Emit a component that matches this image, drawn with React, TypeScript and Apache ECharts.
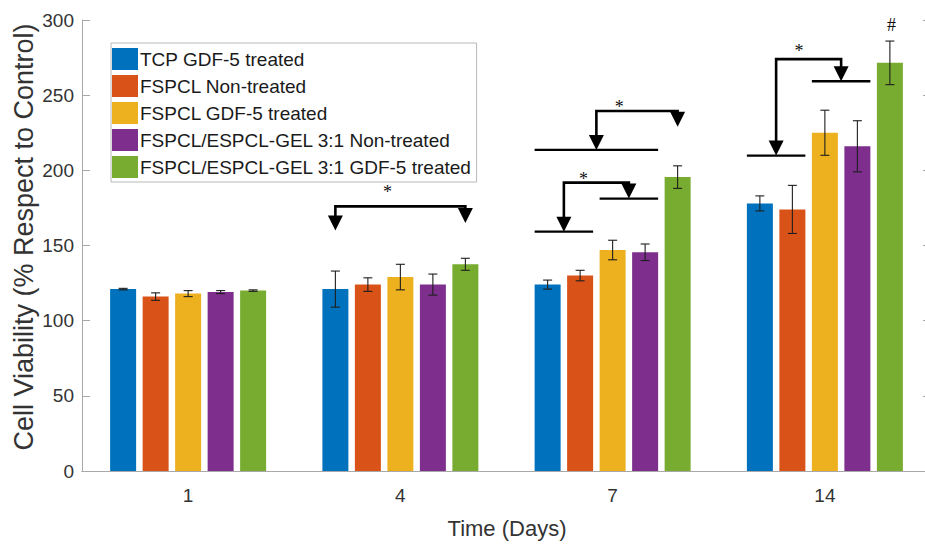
import { useEffect, useRef } from "react";
import * as echarts from "echarts";

// Time points (days) and treatment groups
const days = ["1", "4", "7", "14"];
const groupNames = [
  "TCP GDF-5 treated",
  "FSPCL Non-treated",
  "FSPCL GDF-5 treated",
  "FSPCL/ESPCL-GEL 3:1 Non-treated",
  "FSPCL/ESPCL-GEL 3:1 GDF-5 treated",
];
const groupColors = ["#0072BD", "#D95319", "#EDB120", "#7E2F8E", "#77AC30"];

// Mean cell viability (% respect to control) per day
const tcpTreated = [121, 121, 124, 178];
const fspclNonTreated = [116, 124, 130, 174];
const fspclTreated = [118, 129, 147, 225];
const blendNonTreated = [119, 124, 145.5, 216];
const blendTreated = [120, 137.5, 195.5, 271.5];

// Standard deviations
const tcpTreatedSd = [0.5, 12, 3, 5];
const fspclNonTreatedSd = [2.5, 4.5, 3.5, 16];
const fspclTreatedSd = [2, 8.5, 6.5, 15];
const blendNonTreatedSd = [1, 7, 5.5, 17];
const blendTreatedSd = [0.5, 4, 7.5, 14.5];

const groupValues = [tcpTreated, fspclNonTreated, fspclTreated, blendNonTreated, blendTreated];
const groupSd = [tcpTreatedSd, fspclNonTreatedSd, fspclTreatedSd, blendNonTreatedSd, blendTreatedSd];

// Significance brackets: day index, bracket height, compared bar ranges and arrow tip levels
const bracketDay = [1, 2, 2, 3];
const bracketTop = [176, 239.5, 191.8, 274];
const bracketFromBars = [[0, 0], [0, 3], [0, 1], [0, 1]];
const bracketToBars = [[4, 4], [4, 4], [2, 3], [2, 3]];
const bracketFromTip = [160, 213.6, 159.2, 209.8];
const bracketToTip = [165, 229, 181.2, 259.3];

// Significance symbols: day index, bar slot, level, symbol
const markDay = [1, 2, 2, 3, 3];
const markSlot = [1.6, 2.2, 1.1, 1.2, 4.05];
const markLevel = [187.6, 244.2, 196.5, 281.6, 296.7];
const markText = ["*", "*", "*", "*", "#"];

const BAR_W = 26;
const PITCH = 32.5;
const HEAD = 15;
const SANS = '"Liberation Sans", Arial, sans-serif';
const SERIF = '"Liberation Serif", "Times New Roman", serif';
const AXIS_GREY = "#a8a8a8";

export default function App() {
  const ref = useRef<HTMLDivElement>(null);

  useEffect(() => {
    if (!ref.current) return;
    const chart = echarts.init(ref.current, null, { renderer: "svg" });

    const barSeries = groupNames.map((name, s) => ({
      name,
      type: "bar",
      data: groupValues[s],
      barWidth: BAR_W,
      barGap: "25%",
      itemStyle: { color: groupColors[s] },
      z: 2,
    }));

    const errorData: number[][] = [];
    groupValues.forEach((vals, s) =>
      vals.forEach((v, d) => errorData.push([d, v, groupSd[s][d], s]))
    );

    const errorSeries = {
      type: "custom",
      z: 4,
      silent: true,
      encode: { x: 0, y: 1 },
      data: errorData,
      renderItem: (_p: any, api: any) => {
        const d = api.value(0);
        const v = api.value(1);
        const e = api.value(2);
        const s = api.value(3);
        const x = api.coord([d, v])[0] + (s - 2) * PITCH;
        const yt = api.coord([d, v + e])[1];
        const yb = api.coord([d, v - e])[1];
        const st = { stroke: "#1e1e1e", lineWidth: 1.1 };
        return {
          type: "group",
          children: [
            { type: "line", shape: { x1: x, y1: yt, x2: x, y2: yb }, style: st },
            { type: "line", shape: { x1: x - 4.5, y1: yt, x2: x + 4.5, y2: yt }, style: st },
            { type: "line", shape: { x1: x - 4.5, y1: yb, x2: x + 4.5, y2: yb }, style: st },
          ],
        };
      },
    };

    const bracketSeries = {
      type: "custom",
      z: 5,
      silent: true,
      clip: false,
      encode: { x: 0, y: 1 },
      data: bracketDay.map((d, i) => [d, bracketTop[i]]),
      renderItem: (params: any, api: any) => {
        const i = params.dataIndex;
        const d = bracketDay[i];
        const cx = api.coord([d, 0])[0];
        const slotX = (s: number) => cx + (s - 2) * PITCH;
        const target = (bars: number[], tip: number) => {
          const [a, b] = bars;
          return {
            x: (slotX(a) + slotX(b)) / 2,
            y: api.coord([d, tip])[1],
            span: a !== b ? [slotX(a) - BAR_W / 2, slotX(b) + BAR_W / 2] : null,
          };
        };
        const L = target(bracketFromBars[i], bracketFromTip[i]);
        const R = target(bracketToBars[i], bracketToTip[i]);
        const yTop = api.coord([d, bracketTop[i]])[1];
        const stroke = { stroke: "#000", lineWidth: 2.6, fill: null };
        const children: any[] = [
          {
            type: "polyline",
            shape: {
              points: [
                [L.x, L.y - HEAD + 1],
                [L.x, yTop],
                [R.x, yTop],
                [R.x, R.y - HEAD + 1],
              ],
            },
            style: stroke,
          },
        ];
        [L, R].forEach((t) => {
          children.push({
            type: "polygon",
            shape: {
              points: [
                [t.x - 7.5, t.y - HEAD],
                [t.x + 7.5, t.y - HEAD],
                [t.x, t.y],
              ],
            },
            style: { fill: "#000" },
          });
          if (t.span) {
            children.push({
              type: "line",
              shape: { x1: t.span[0], y1: t.y, x2: t.span[1], y2: t.y },
              style: { stroke: "#000", lineWidth: 2.4 },
            });
          }
        });
        return { type: "group", children };
      },
    };

    const markSeries = {
      type: "custom",
      z: 6,
      silent: true,
      clip: false,
      encode: { x: 0, y: 1 },
      data: markDay.map((d, i) => [d, markLevel[i]]),
      renderItem: (params: any, api: any) => {
        const i = params.dataIndex;
        const d = markDay[i];
        const p = api.coord([d, markLevel[i]]);
        const x = p[0] + (markSlot[i] - 2) * PITCH;
        return {
          type: "text",
          x,
          y: p[1] + (markText[i] === "*" ? 3 : 0),
          style: {
            text: markText[i],
            font: `18px ${SERIF}`,
            fill: "#111",
            align: "center",
            verticalAlign: "middle",
          },
        };
      },
    };

    chart.setOption({
      animation: false,
      backgroundColor: "#fff",
      grid: { left: 82, right: 14, top: 20, bottom: 74, containLabel: false },
      legend: {
        data: groupNames,
        orient: "vertical",
        left: 111,
        top: 43,
        icon: "rect",
        itemWidth: 26,
        itemHeight: 22,
        itemGap: 5,
        padding: [5, 5, 4, 1],
        borderColor: "#b8b8b8",
        borderWidth: 1,
        backgroundColor: "#fff",
        textStyle: { fontFamily: SANS, fontSize: 19, color: "#1a1a1a", padding: [0, 0, 0, -3] },
        selectedMode: false,
      },
      xAxis: [
        {
          type: "category",
          data: days,
          position: "bottom",
          axisLine: { lineStyle: { color: AXIS_GREY, width: 1 } },
          axisTick: { inside: true, alignWithLabel: true, length: 7, lineStyle: { color: AXIS_GREY } },
          axisLabel: { fontFamily: SANS, fontSize: 19, color: "#333", margin: 15 },
        },
        {
          type: "category",
          data: days,
          position: "top",
          axisLine: { lineStyle: { color: AXIS_GREY, width: 1 } },
          axisTick: { inside: true, alignWithLabel: true, length: 7, lineStyle: { color: AXIS_GREY } },
          axisLabel: { show: false },
        },
      ],
      yAxis: [
        {
          type: "value",
          min: 0,
          max: 300,
          interval: 50,
          axisLine: { show: true, lineStyle: { color: AXIS_GREY, width: 1 } },
          axisTick: { show: true, inside: true, length: 8, lineStyle: { color: AXIS_GREY } },
          splitLine: { show: false },
          axisLabel: { fontFamily: SANS, fontSize: 19, color: "#333", margin: 8 },
        },
        {
          type: "value",
          position: "right",
          min: 0,
          max: 300,
          interval: 50,
          axisLine: { show: true, lineStyle: { color: AXIS_GREY, width: 1 } },
          axisTick: { show: true, inside: true, length: 8, lineStyle: { color: AXIS_GREY } },
          splitLine: { show: false },
          axisLabel: { show: false },
        },
      ],
      graphic: [
        {
          type: "text",
          x: 24,
          y: 237,
          rotation: Math.PI / 2,
          style: {
            text: "Cell Viability (% Respect to Control)",
            font: `27px ${SANS}`,
            fill: "#333",
            align: "center",
            verticalAlign: "middle",
          },
        },
        {
          type: "text",
          x: 507,
          y: 528,
          style: {
            text: "Time (Days)",
            font: `22px ${SANS}`,
            fill: "#333",
            align: "center",
            verticalAlign: "middle",
          },
        },
      ],
      series: [...barSeries, errorSeries, bracketSeries, markSeries],
    });

    return () => chart.dispose();
  }, []);

  return (
    <div
      style={{
        position: "absolute",
        left: 0,
        top: 0,
        width: 925,
        height: 545,
        overflow: "hidden",
        background: "#fff",
      }}
    >
      <div ref={ref} style={{ width: 945, height: 545 }} />
    </div>
  );
}
